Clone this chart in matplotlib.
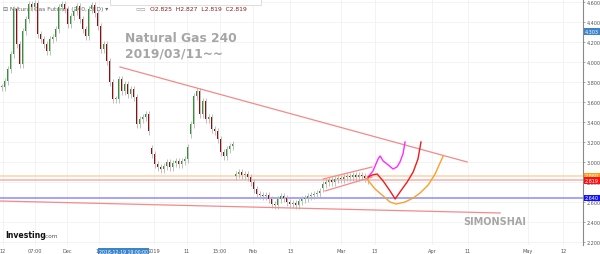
"""Natural Gas 240 chart — candles, trend lines and hand-drawn projections."""
import matplotlib
matplotlib.use("Agg")
import matplotlib.pyplot as plt
from matplotlib.patches import Rectangle

# closing price of each 240-min bar
closes = [
    3.75, 3.81, 3.93, 4.08, 4.53, 4.18, 3.98, 4.31, 4.43, 4.58,
    4.55, 4.59, 4.28, 4.23, 4.18, 4.11, 4.23, 4.25, 4.33, 4.55,
    4.58, 4.53, 4.38, 4.46, 4.51, 4.56, 4.43, 4.33, 4.26, 4.53,
    4.57, 4.49, 4.36, 4.13, 4.18, 4.01, 3.80, 3.63, 3.63, 3.83,
    3.71, 3.78, 3.68, 3.73, 3.65, 3.38, 3.43, 3.45, 3.48, 3.31,
    3.08, 2.98, 2.95, 2.93, 2.96, 3.00, 2.95, 2.99, 3.01, 2.98,
    3.01, 3.03, 3.15, 3.38, 3.66, 3.71, 3.48, 3.61, 3.43, 3.45,
    3.33, 3.31, 3.23, 3.10, 3.06, 3.13, 3.16, 3.18, 2.88, 2.90,
    2.87, 2.88, 2.85, 2.80, 2.73, 2.68, 2.67, 2.66, 2.67, 2.63,
    2.58, 2.57, 2.63, 2.66, 2.64, 2.60, 2.58, 2.59, 2.57, 2.61,
    2.63, 2.64, 2.66, 2.67, 2.68, 2.69, 2.71, 2.78, 2.80, 2.82,
    2.80, 2.83, 2.84, 2.83, 2.85, 2.86, 2.85, 2.87, 2.85, 2.87,
    2.86, 2.84, 2.819,
]
gap_opens = {50: 3.14, 63: 3.28, 78: 2.86, 107: 2.74}   # bars that opened on a gap
WICK = 0.035

# x axis (bar index) ticks
tick_pos = [0.5, 11.2, 21.8, 32.5, 50.8, 61.8, 72.8, 83.8, 96.2, 113.2, 124.5, 143.5, 155.5, 175.5, 187.2]
tick_lbl = ["12", "07:00", "Dec", "12", "2019", "11", "15:00", "Feb", "13", "Mar", "13", "Apr", "11", "May", "12"]
y_ticks = [4.6, 4.4, 4.2, 4.0, 3.8, 3.6, 3.4, 3.2, 3.0, 2.8, 2.6, 2.4, 2.2]

# drawn trend lines (bar, price)
down_line = ([39.5, 155.2], [3.95, 3.00])
low_line = ([-0.5, 166.2], [2.61, 2.49])
chan_up = ([107.2, 123.5], [2.83, 2.95])
chan_lo = ([107.8, 123.5], [2.71, 2.85])

# hand-drawn projections
mag_x = [122.2, 123.8, 125.5, 126.2, 127.2, 128.5, 130.5, 131.8, 132.8, 133.8, 134.5]
mag_y = [2.85, 2.91, 3.03, 3.06, 3.01, 2.98, 2.93, 2.95, 3.00, 3.08, 3.20]
red_x = [122.2, 123.5, 125.2, 127.2, 129.5, 131.2, 132.8, 135.2, 137.2, 138.8, 139.8]
red_y = [2.85, 2.87, 2.88, 2.81, 2.71, 2.63, 2.70, 2.80, 2.90, 3.03, 3.20]
org_x = [121.8, 124.5, 127.2, 129.5, 131.5, 134.5, 137.2, 139.5, 142.2, 144.5, 147.2]
org_y = [2.83, 2.73, 2.66, 2.60, 2.58, 2.60, 2.64, 2.69, 2.77, 2.88, 3.06]

# horizontal price markers: value, line colour, box colour
levels = [(2.860, "#ffd3a8", "#ff9c1a"), (2.819, "#f7b0b0", "#ff1010"), (2.640, "#8c8cff", "#1010ff")]
last_high = 4.303

fig = plt.figure(figsize=(6, 2.55), dpi=100)
ax = fig.add_axes([0, 9 / 255, 583 / 600, 246 / 255])
ax.set_xlim(-0.5, 193.8)
ax.set_ylim(2.17, 4.63)

for s in ["top", "left", "bottom"]:
    ax.spines[s].set_visible(False)
ax.spines["right"].set_color("#8a8a8a")
ax.spines["right"].set_linewidth(0.8)
ax.yaxis.tick_right()
ax.set_yticks(y_ticks)
ax.set_yticklabels([f"{v:.3f}" for v in y_ticks], fontsize=3.5, color="#555555")
ax.tick_params(axis="y", length=1.5, width=0.5, color="#888888", pad=1)
ax.set_xticks(tick_pos)
ax.set_xticklabels(tick_lbl, fontsize=3.6, color="#555555")
ax.tick_params(axis="x", length=0, pad=2.5)
ax.grid(True, color="#f1f1f1", lw=0.6)
ax.set_axisbelow(True)

# candles
opens = [closes[0]] + closes[:-1]
for i, g in gap_opens.items():
    opens[i] = g
xs = list(range(len(closes)))
hi = [max(o, c) + WICK for o, c in zip(opens, closes)]
lo = [min(o, c) - WICK for o, c in zip(opens, closes)]
ax.vlines(xs, lo, hi, color="#b5b5b5", lw=0.6, zorder=3)
cols = ["#2a9a2a" if c >= o else "#9a0a0a" for o, c in zip(opens, closes)]
bottoms = [min(o, c) for o, c in zip(opens, closes)]
heights = [max(abs(c - o), 0.006) for o, c in zip(opens, closes)]
ax.bar(xs, heights, bottom=bottoms, width=0.6, color=cols, zorder=4, linewidth=0)

# price levels
for v, lc, _ in levels:
    ax.axhline(v, color=lc, lw=1.1, zorder=2)

# trend lines
for xl, yl in [down_line, low_line, chan_up, chan_lo]:
    ax.plot(xl, yl, color="#f48a8a", lw=0.9, zorder=5)
ax.plot(mag_x, mag_y, color="#ff2bff", lw=1.0, zorder=6)
ax.plot(red_x, red_y, color="#f21a1a", lw=1.0, zorder=6)
ax.plot(org_x, org_y, color="#f7a12a", lw=1.0, zorder=6)

# labels on the price axis
boxes = [(last_high, "#3c83c8")] + [(v, bc) for v, _, bc in levels]
for v, bc in boxes:
    ax.annotate(f"{v:.3f}", xy=(1, v), xycoords=("axes fraction", "data"), xytext=(1.5, 0),
                textcoords="offset points", fontsize=3.5, color="white", va="center", ha="left",
                bbox=dict(boxstyle="square,pad=0.2", fc=bc, ec="none"), zorder=10,
                annotation_clip=False)

# selected date box under the axis
ax.annotate("2018-12-19 19:00:00", xy=(40.6, 0), xycoords=("data", "axes fraction"), xytext=(0, -5),
            textcoords="offset points", fontsize=3.3, color="white", ha="center", va="center",
            bbox=dict(boxstyle="square,pad=0.3", fc="#3c83c8", ec="none"), annotation_clip=False, zorder=10)

# texts
ax.text(41, 4.215, "Natural Gas 240", fontsize=8.8, fontweight="bold", color="#a6a6a6", zorder=7)
ax.text(41, 4.06, "2019/03/11~~", fontsize=8.8, fontweight="bold", color="#a6a6a6", zorder=7)
ax.text(154, 2.38, "SIMONSHAI", fontsize=7, fontweight="bold", color="#a6a6a6", zorder=7)
ax.text(1.2, 2.255, "Investing", fontsize=5.6, fontweight="bold", color="#111111", zorder=7)
ax.text(13.9, 2.255, ".com", fontsize=4.2, color="#555555", zorder=7)
ax.text(0.5, 4.52, "\u229f Natural Gas Futures (240, CFD) \u25be", fontsize=4.3, color="#666666", zorder=1)
ax.text(44.5, 4.52, "\u25ad\u25ad", fontsize=4, color="#999999", zorder=1)
ax.text(49.5, 4.52, "O2.825  H2.827  L2.819  C2.819", fontsize=4.3, color="#8b1a1a", zorder=1)

# toolbar box at the top
ax.add_patch(Rectangle((36, 4.575), 50.5, 0.07, fc="white", ec="#d8d8d8", lw=0.6, zorder=8, clip_on=False))

fig.savefig("out.png", dpi=100)
